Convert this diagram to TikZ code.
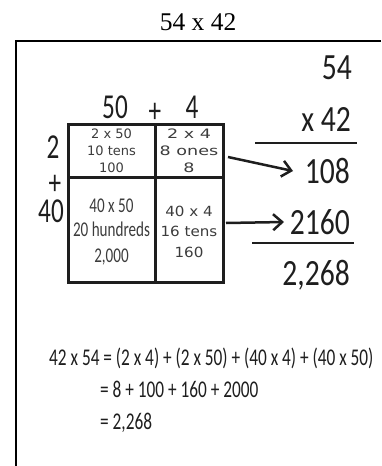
\documentclass[tikz,border=0pt]{standalone}
\usepackage{fontspec}
\setmainfont{Liberation Serif}
\newfontfamily\calA[FakeStretch=0.8]{Carlito}
\newfontfamily\calB[FakeStretch=0.72]{Carlito}
\newfontfamily\djA{DejaVu Sans}
\newfontfamily\djB[FakeStretch=1.35]{DejaVu Sans}
\newfontfamily\djC[FakeStretch=1.08]{DejaVu Sans}
\usetikzlibrary{arrows.meta}
\definecolor{ink}{HTML}{1E1E1E}
\definecolor{cellink}{HTML}{3C3C3C}
\begin{document}
\begin{tikzpicture}[x=1pt,y=-1pt,
  title/.style={inner sep=0pt, text=black, font=\fontsize{25.5}{25.5}\selectfont},
  big/.style={inner sep=0pt, text=ink, font=\calA\fontsize{37}{37}\selectfont},
  lab/.style={inner sep=0pt, text=ink, font=\calB\fontsize{35}{35}\selectfont},
  cellTL/.style={inner sep=0pt, text=cellink, font=\djA\fontsize{13}{13}\selectfont},
  cellTR/.style={inner sep=0pt, text=cellink, font=\djB\fontsize{13}{13}\selectfont},
  cellBR/.style={inner sep=0pt, text=cellink, font=\djC\fontsize{14}{14}\selectfont},
  cellBL/.style={inner sep=0pt, text=cellink, font=\calB\fontsize{21}{21}\selectfont},
  eqn/.style={inner sep=0pt, text=ink, font=\calB\fontsize{24}{24}\selectfont},
  gridline/.style={draw=ink, line width=3pt},
  rule/.style={draw=ink, line width=2.8pt},
  framebox/.style={draw=black, line width=2.2pt},
  arr/.style={draw=ink, line width=2.5pt, -{Straight Barb[length=9pt,width=16pt]}}
]
\useasboundingbox (0,0) rectangle (381,466);
% title
\node[title, anchor=base] (ttl) at (198,30) {54 x 42};
% frame (open at right and bottom)
\draw[framebox] (381,41) -- (16,41) -- (16,466);
% grid
\draw[gridline] (68,124) rectangle (223,282);
\draw[gridline] (155,124) -- (155,282);
\draw[gridline] (68,177) -- (223,177);
% labels around grid
\node[lab, anchor=base] (l50) at (115,118) {50};
\node[lab, anchor=base] (lplus) at (155,122) {+};
\node[lab, anchor=base] (l4) at (192,118) {4};
\node[lab, anchor=base] (l2) at (53,158) {2};
\node[lab, anchor=base] (lplus2) at (55,194) {+};
\node[lab, anchor=base] (l40) at (51,222) {40};
% cell texts
\node[cellTL, anchor=base] (tl1) at (111.5,138.5) {2 x 50};
\node[cellTL, anchor=base] (tl2) at (111.5,155.5) {10 tens};
\node[cellTL, anchor=base] (tl3) at (111.5,172.5) {100};
\node[cellTR, anchor=base] (tr1) at (189,138.5) {2 x 4};
\node[cellTR, anchor=base] (tr2) at (189,155.5) {8 ones};
\node[cellTR, anchor=base] (tr3) at (189,172.5) {8};
\node[cellBL, anchor=base] (bl1) at (111.5,212) {40 x 50};
\node[cellBL, anchor=base] (bl2) at (111.5,236) {20 hundreds};
\node[cellBL, anchor=base] (bl3) at (111.5,262) {2,000};
\node[cellBR, anchor=base] (br1) at (189,216) {40 x 4};
\node[cellBR, anchor=base] (br2) at (189,236.5) {16 tens};
\node[cellBR, anchor=base] (br3) at (189,257) {160};
% right column
\node[big, anchor=base east] (r54) at (352,79) {54};
\node[big, anchor=base east] (r42) at (351,131) {x 42};
\draw[rule] (255,143) -- (357,143);
\node[big, anchor=base east] (r108) at (350,183) {108};
\node[big, anchor=base east] (r2160) at (350,234) {2160};
\draw[rule] (252,243) -- (354,243);
\node[big, anchor=base east] (r2268) at (350,285) {2,268};
% arrows
\coordinate (a1s) at (228,157);
\coordinate (a1e) at (293,171);
\coordinate (a2s) at (226,223);
\coordinate (a2e) at (284,222);
\draw[arr] (a1s) -- (a1e);
\draw[arr] (a2s) -- (a2e);
% equation
\node[eqn, anchor=base west] (e1) at (49,365) {42 x 54 = (2 x 4) + (2 x 50) + (40 x 4) + (40 x 50)};
\node[eqn, anchor=base west] (e2) at (100,397) {= 8 + 100 + 160 + 2000};
\node[eqn, anchor=base west] (e3) at (100,429) {= 2,268};
\end{tikzpicture}
\end{document}
